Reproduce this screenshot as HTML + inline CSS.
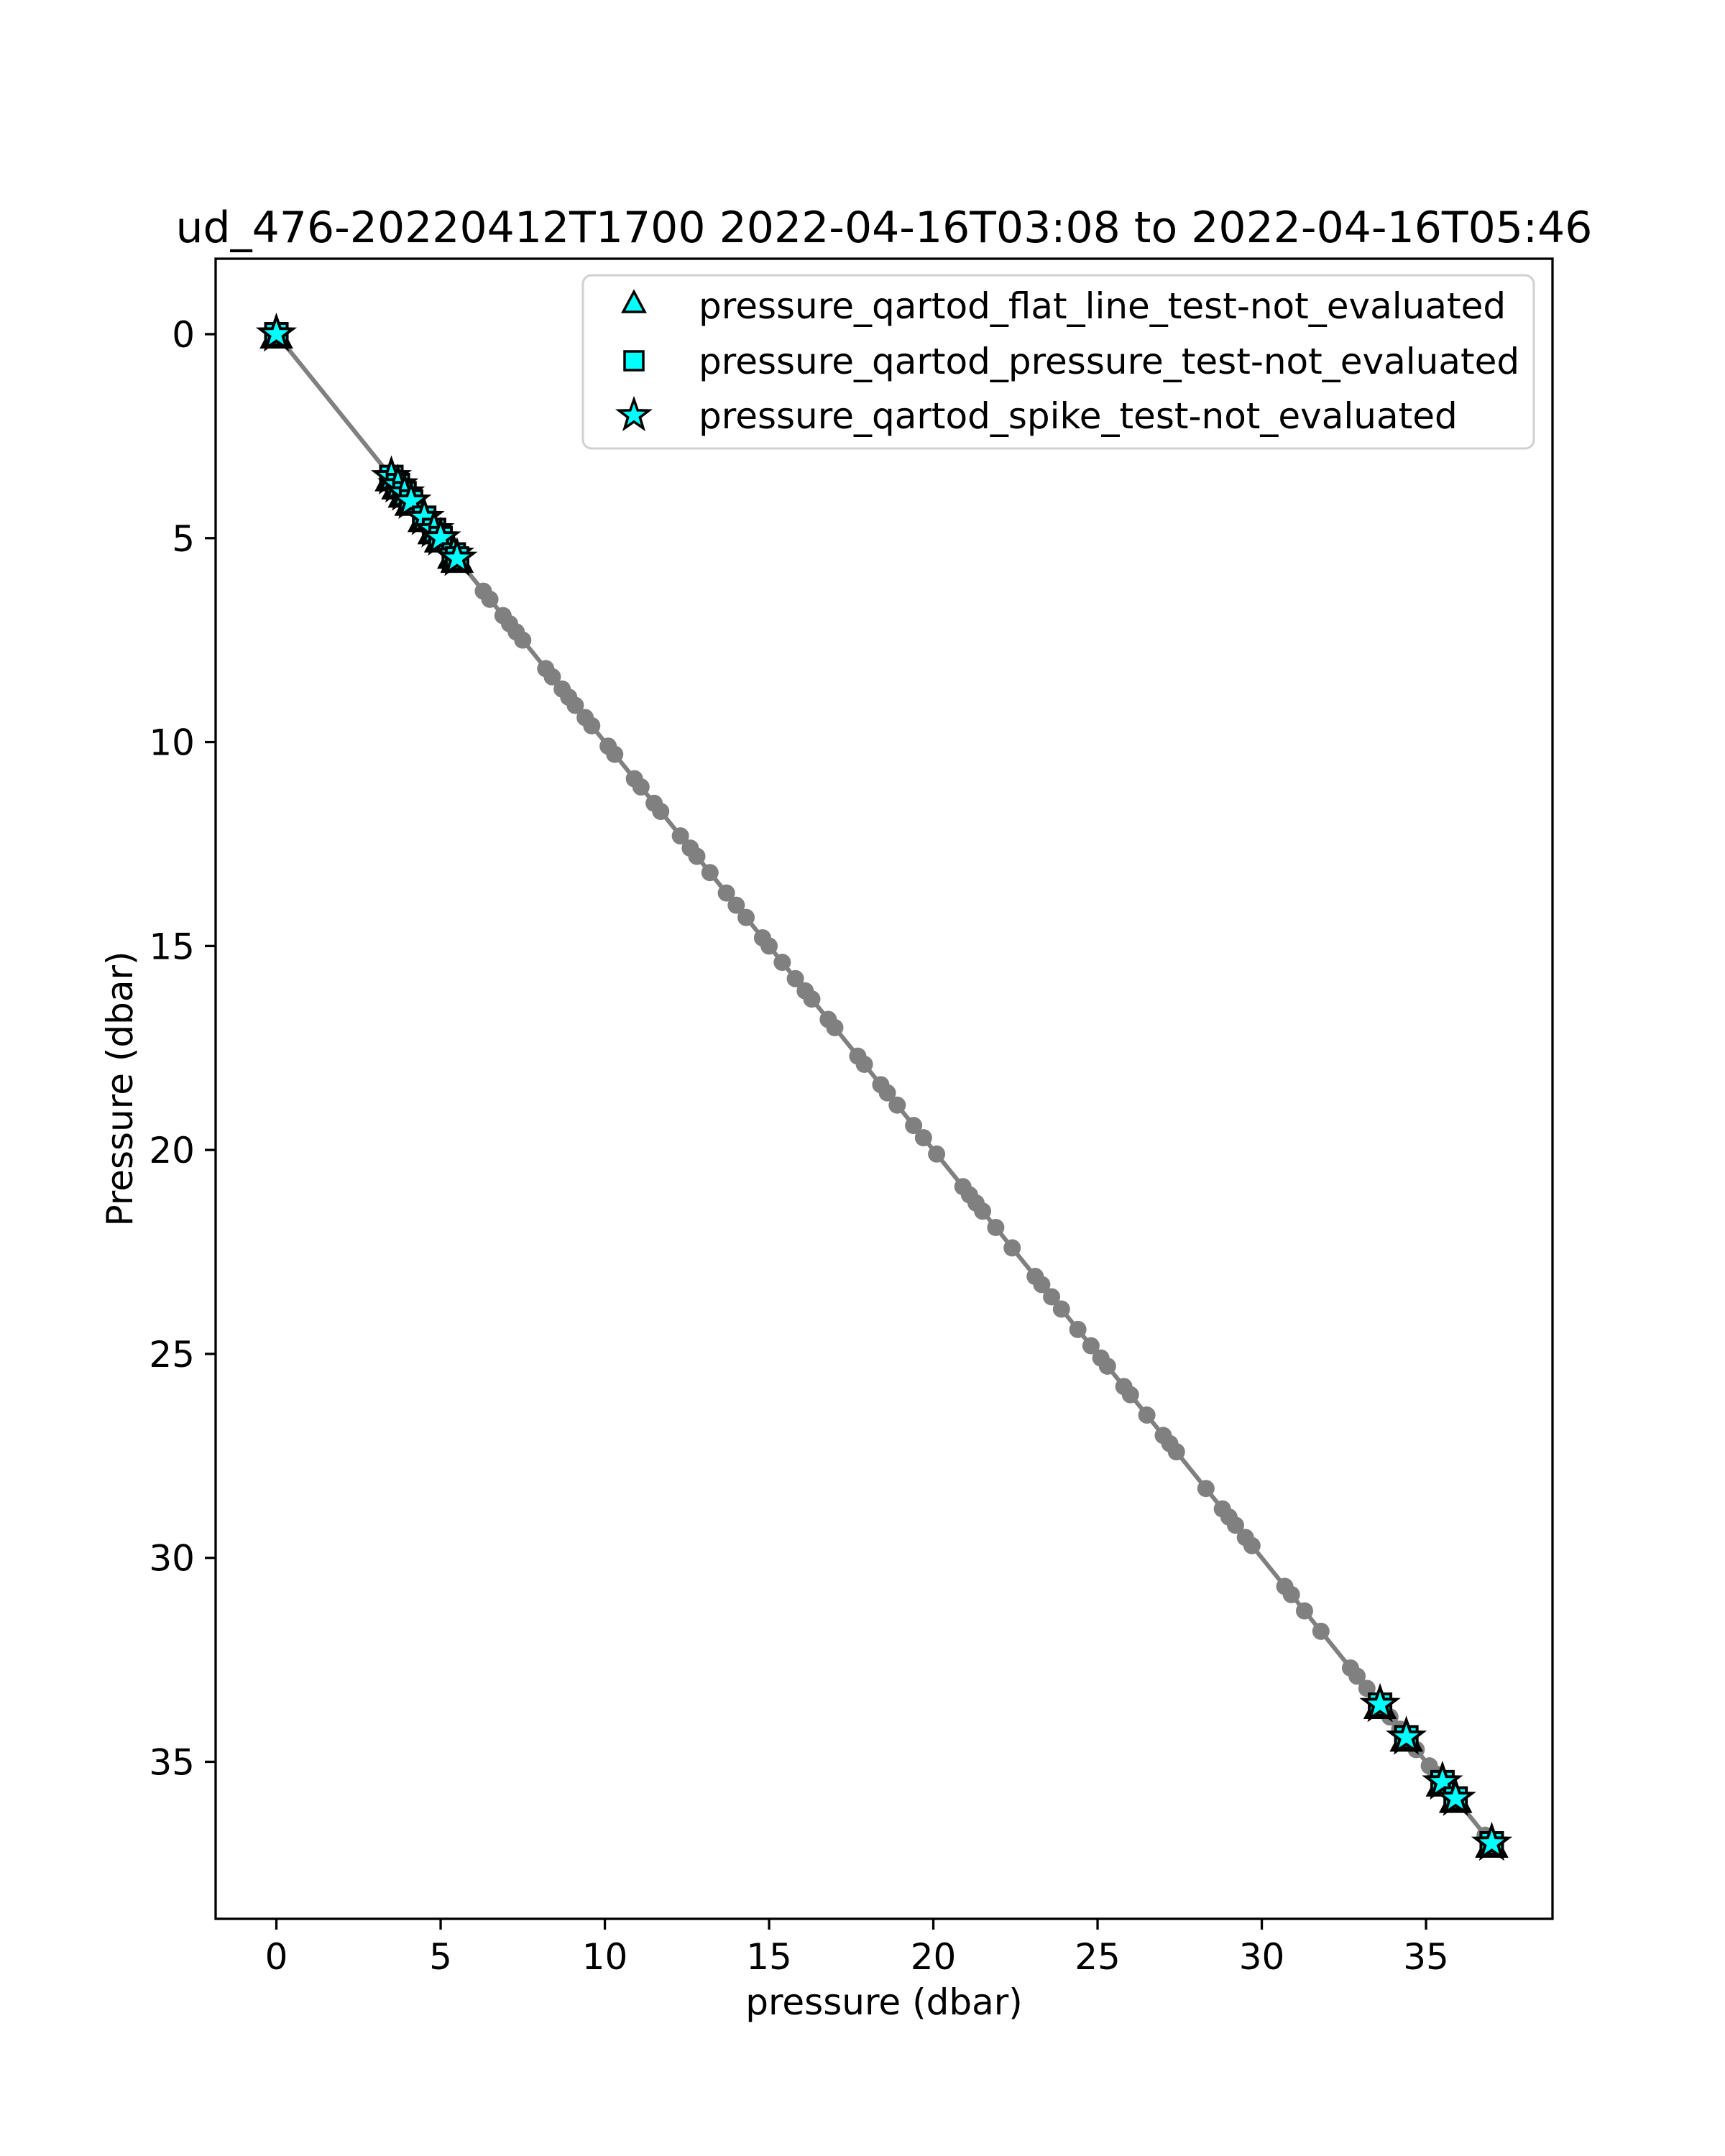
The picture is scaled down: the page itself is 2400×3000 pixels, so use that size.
<!DOCTYPE html>
<html><head><meta charset="utf-8"><style>
html,body{margin:0;padding:0;background:#fff;}
svg{display:block;font-family:"DejaVu Sans","Liberation Sans",sans-serif;}
</style></head><body>
<svg id="chart" width="2400" height="3000" viewBox="0 0 2400 3000" xmlns="http://www.w3.org/2000/svg">
<rect x="0" y="0" width="2400" height="3000" fill="#fff"/>
<text x="1230" y="337" font-size="60" text-anchor="middle">ud_476-20220412T1700 2022-04-16T03:08 to 2022-04-16T05:46</text>
<g id="plot"></g>
<rect x="300" y="360" width="1860" height="2310" fill="none" stroke="#000" stroke-width="3.3"/>
<g id="ticks"></g>
<text x="1230" y="2803" font-size="50" text-anchor="middle">pressure (dbar)</text>
<text x="0" y="0" font-size="50" text-anchor="middle" transform="translate(184,1515) rotate(-90)">Pressure (dbar)</text>
<g>
<rect x="811" y="383" width="1323" height="241" rx="12" fill="#fff" fill-opacity="0.8" stroke="#d0d0d0" stroke-width="3"/>
<g>
<polygon points="882,406 897,434 867,434" fill="#00ffff" stroke="#000" stroke-width="3.5"/>
<text x="972" y="443" font-size="50">pressure_qartod_flat_line_test-not_evaluated</text></g>
<g>
<rect x="869" y="489" width="26" height="26" fill="#00ffff" stroke="#000" stroke-width="3.5"/>
<text x="972" y="520" font-size="50">pressure_qartod_pressure_test-not_evaluated</text></g>
<g>
<polygon id="legstar" fill="#00ffff" stroke="#000" stroke-width="3.5"/>
<text x="972" y="596" font-size="50">pressure_qartod_spike_test-not_evaluated</text></g>
</g>
</svg>
<script>
const profilePressure = [0, 3.5, 3.6, 3.7, 3.8, 3.9, 4.0, 4.1, 4.3, 4.5, 4.8, 5.0, 5.4, 5.5, 6.3, 6.5, 6.9, 7.1, 7.3, 7.5, 8.2, 8.4, 8.7, 8.9, 9.1, 9.4, 9.6, 10.1, 10.3, 10.9, 11.1, 11.5, 11.7, 12.3, 12.6, 12.8, 13.2, 13.7, 14.0, 14.3, 14.8, 15.0, 15.4, 15.8, 16.1, 16.3, 16.8, 17.0, 17.7, 17.9, 18.4, 18.6, 18.9, 19.4, 19.7, 20.1, 20.9, 21.1, 21.3, 21.5, 21.9, 22.4, 23.1, 23.3, 23.6, 23.9, 24.4, 24.8, 25.1, 25.3, 25.8, 26.0, 26.5, 27.0, 27.2, 27.4, 28.3, 28.8, 29.0, 29.2, 29.5, 29.7, 30.7, 30.9, 31.3, 31.8, 32.7, 32.9, 33.2, 33.6, 33.9, 34.2, 34.4, 34.7, 35.1, 35.3, 35.5, 35.9, 36.8, 37.0];
const flaggedPressure = [0, 3.5, 3.7, 3.9, 4.1, 4.5, 4.8, 5.0, 5.4, 5.5, 33.6, 34.4, 35.5, 35.9, 37.0];
const xTicks = [0, 5, 10, 15, 20, 25, 30, 35];
const yTicks = [0, 5, 10, 15, 20, 25, 30, 35];
const X0=300,X1=2160,Y0=360,Y1=2670,DMIN=-1.85,DMAX=38.85;
const NS='http://www.w3.org/2000/svg';
function xs(v){return X0+(v-DMIN)/(DMAX-DMIN)*(X1-X0);}
function ys(v){return Y0+(v-DMIN)/(DMAX-DMIN)*(Y1-Y0);}
function mk(tag,attrs,parent){const e=document.createElementNS(NS,tag);for(const k in attrs)e.setAttribute(k,attrs[k]);parent.appendChild(e);return e;}
function starPts(cx,cy,R){const r=R*0.4;let p=[];for(let i=0;i<10;i++){const a=-Math.PI/2+i*Math.PI/5;const rr=i%2?r:R;p.push((cx+rr*Math.cos(a)).toFixed(1)+','+(cy+rr*Math.sin(a)).toFixed(1));}return p.join(' ');}
document.getElementById('legstar').setAttribute('points',starPts(882,578,22));
const plot=document.getElementById('plot');
const line=mk('polyline',{points:profilePressure.map(p=>xs(p)+','+ys(p)).join(' '),fill:'none',stroke:'#808080','stroke-width':6},plot);


profilePressure.forEach(p=>{
  const c=mk('circle',{cx:xs(p),cy:ys(p),r:12,fill:'#808080'},plot);
  
  
});
flaggedPressure.forEach(p=>{
  const cx=xs(p),cy=ys(p);
  const t=mk('polygon',{points:`${cx},${cy-20} ${cx+20},${cy+18} ${cx-20},${cy+18}`,fill:'#00ffff',stroke:'#000','stroke-width':4},plot);
  
  
  const s=mk('rect',{x:cx-15,y:cy-15,width:30,height:30,fill:'#00ffff',stroke:'#000','stroke-width':4},plot);
  
  
  const st=mk('polygon',{points:starPts(cx,cy,24),fill:'#00ffff',stroke:'#000','stroke-width':4},plot);
  
  
});
const tg=document.getElementById('ticks');
xTicks.forEach(v=>{
  const x=xs(v);
  const l=mk('line',{x1:x,y1:Y1,x2:x,y2:Y1+15,stroke:'#000','stroke-width':3.3},tg);
  
  
  const t=mk('text',{x:x,y:Y1+70,'font-size':50,'text-anchor':'middle'},tg);
  t.textContent=v;
  
  
});
yTicks.forEach(v=>{
  const y=ys(v);
  const l=mk('line',{x1:X0-15,y1:y,x2:X0,y2:y,stroke:'#000','stroke-width':3.3},tg);
  
  
  const t=mk('text',{x:X0-29,y:y+18,'font-size':50,'text-anchor':'end'},tg);
  t.textContent=v;
  
  
});
</script>
</body></html>
